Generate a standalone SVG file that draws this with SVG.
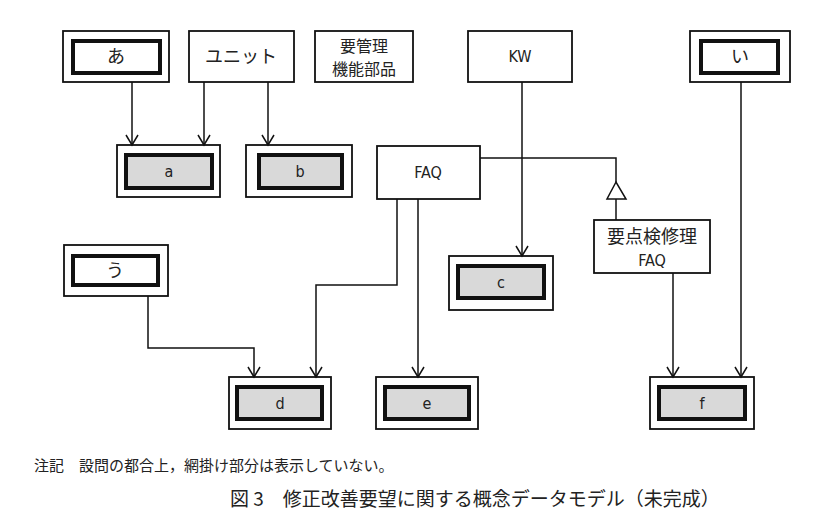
<svg xmlns="http://www.w3.org/2000/svg" width="817" height="531" viewBox="0 0 817 531">
<defs>
<marker id="ar" markerWidth="14" markerHeight="14" refX="12" refY="7" orient="auto" markerUnits="userSpaceOnUse" viewBox="0 0 14 14"><path d="M2,1 L12,7 L2,13" fill="none" stroke="#111" stroke-width="1.5"/></marker>
</defs>
<style>
text{font-family:"Noto Sans CJK JP","Liberation Sans",sans-serif;fill:#222;text-anchor:middle}
.o{fill:#fff;stroke:#111;stroke-width:1.8}
.i{fill:#fff;stroke:#111;stroke-width:4}
.g{fill:#d9d9d9;stroke:#111;stroke-width:4}
.l{fill:none;stroke:#111;stroke-width:1.5}
.t{font-size:18px}
.s{font-family:"DejaVu Sans Condensed","Liberation Sans",sans-serif;font-size:16px}
</style>
<rect width="817" height="531" fill="#fff"/>
<g id="n-a-hira"><rect class="o" x="63" y="31" width="106" height="51"/><rect class="i" x="73" y="41" width="87" height="32"/><text class="t" x="116" y="63">あ</text></g>
<g id="n-unit"><rect class="o" x="189" y="31" width="105" height="51"/><text class="t" x="241" y="63">ユニット</text></g>
<g id="n-yokanri"><rect class="o" x="315" y="31" width="98" height="51"/><text class="t" x="364" y="52" style="font-size:16px">要管理</text><text class="t" x="364" y="75" style="font-size:16px">機能部品</text></g>
<g id="n-kw"><rect class="o" x="468" y="31" width="104" height="51"/><text class="s" x="520" y="62">KW</text></g>
<g id="n-i"><rect class="o" x="690" y="31" width="100" height="51"/><rect class="i" x="701" y="41" width="77" height="32"/><text class="t" x="740" y="63">い</text></g>
<g id="n-a"><rect class="o" x="117" y="145" width="103" height="52"/><rect class="g" x="126" y="155" width="86" height="33"/><text class="s" x="169" y="177">a</text></g>
<g id="n-b"><rect class="o" x="246" y="145" width="106" height="52"/><rect class="g" x="259" y="155" width="83" height="33"/><text class="s" x="300" y="177">b</text></g>
<g id="n-faq"><rect class="o" x="377" y="146" width="103" height="53"/><text class="s" x="428" y="178">FAQ</text></g>
<g id="n-yoten"><rect class="o" x="594" y="220" width="116" height="53"/><text class="t" x="652" y="243">要点検修理</text><text class="s" x="652" y="266">FAQ</text></g>
<g id="n-c"><rect class="o" x="449" y="256" width="104" height="54"/><rect class="g" x="458" y="266" width="86" height="32"/><text class="s" x="501" y="288">c</text></g>
<g id="n-u"><rect class="o" x="64" y="245" width="104" height="51"/><rect class="i" x="73" y="256" width="85" height="29"/><text class="t" x="115" y="277">う</text></g>
<g id="n-d"><rect class="o" x="229" y="377" width="102" height="52"/><rect class="g" x="237" y="387" width="85" height="32"/><text class="s" x="280" y="409">d</text></g>
<g id="n-e"><rect class="o" x="376" y="377" width="102" height="52"/><rect class="g" x="385" y="387" width="84" height="32"/><text class="s" x="427" y="409">e</text></g>
<g id="n-f"><rect class="o" x="650" y="377" width="104" height="52"/><rect class="g" x="659" y="387" width="86" height="32"/><text class="s" x="702" y="409">f</text></g>
<g id="connectors">
<path class="l" d="M132,82 V145" marker-end="url(#ar)"/>
<path class="l" d="M204,82 V145" marker-end="url(#ar)"/>
<path class="l" d="M268,82 V145" marker-end="url(#ar)"/>
<path class="l" d="M522,82 V256" marker-end="url(#ar)"/>
<path class="l" d="M480,158 H616 V182"/>
<path d="M616,182 L607,199 H626 Z" fill="#fff" stroke="#111" stroke-width="1.5"/>
<path class="l" d="M616,199 V220"/>
<path class="l" d="M397,199 V285 H316 V377" marker-end="url(#ar)"/>
<path class="l" d="M418,199 V377" marker-end="url(#ar)"/>
<path class="l" d="M148,296 V348 H254 V377" marker-end="url(#ar)"/>
<path class="l" d="M673,273 V377" marker-end="url(#ar)"/>
<path class="l" d="M741,82 V377" marker-end="url(#ar)"/>
</g>
<text x="34" y="471" style="font-size:15px;text-anchor:start">注記　設問の都合上，網掛け部分は表示していない。</text>
<text x="230" y="506" style="font-size:19px;text-anchor:start">図 3　修正改善要望に関する概念データモデル（未完成）</text>
</svg>
